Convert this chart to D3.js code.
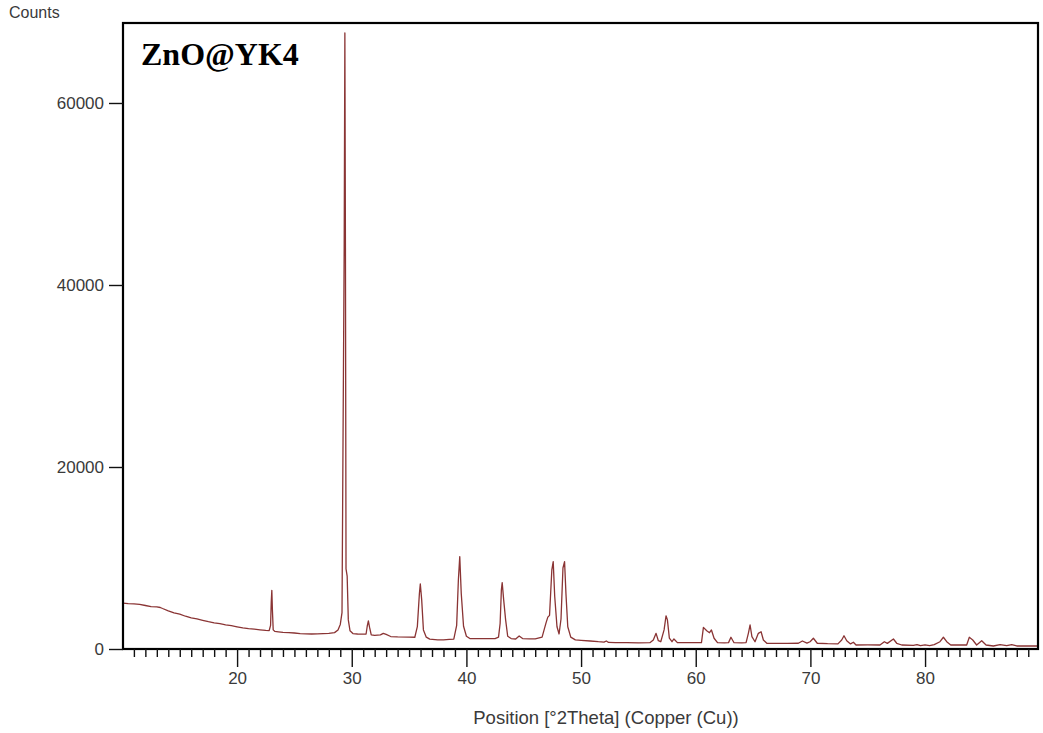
<!DOCTYPE html>
<html>
<head>
<meta charset="utf-8">
<script src="https://cdn.jsdelivr.net/npm/d3@7"></script>
<style>
  body { margin: 0; background: #fff; }
  svg { display: block; }
</style>
</head>
<body>
<svg id="drawing_region"></svg>
<script>
// 2theta positions (degrees)
const positions = [
  10.05, 10.5, 11.0, 11.5, 12.0, 12.5, 13.0, 13.3, 13.5, 14.0, 14.5, 15.0, 15.5, 16.0, 16.5,
  17.0, 17.5, 18.0, 18.5, 19.0, 19.5, 20.0, 20.5, 21.0, 21.5, 22.0, 22.5, 22.8,
  22.92, 22.98, 23.03, 23.08, 23.15, 23.3, 23.6, 24.0, 24.5, 25.0, 25.5, 26.0, 26.5,
  27.0, 27.5, 28.0, 28.5, 28.8, 29.0, 29.15, 29.28, 29.34, 29.40, 29.45, 29.5, 29.6,
  29.7, 29.85, 30.1, 30.5, 31.0, 31.25, 31.35, 31.45, 31.55, 31.7, 32.0, 32.5, 32.75,
  33.0, 33.4, 34.0, 35.0, 35.5, 35.72, 35.9, 35.98, 36.1, 36.25, 36.5, 36.8, 37.5,
  38.0, 38.5, 38.9, 39.15, 39.3, 39.42, 39.55, 39.75, 40.0, 40.3, 40.5, 41.5, 42.5,
  42.8, 42.94, 43.05, 43.12, 43.25, 43.42, 43.6, 43.9, 44.3, 44.6, 44.9, 45.5, 46.0,
  46.6, 46.95, 47.1, 47.25, 47.45, 47.57, 47.7, 47.9, 48.08, 48.25, 48.42, 48.56,
  48.68, 48.84, 49.1, 49.5, 50.0, 50.8, 51.5, 52.0, 52.2, 52.4, 53.0, 54.0, 55.0,
  56.0, 56.3, 56.54, 56.74, 56.95, 57.24, 57.41, 57.53, 57.7, 57.93, 58.1, 58.4,
  59.0, 60.0, 60.5, 60.67, 60.96, 61.2, 61.37, 61.6, 61.9, 62.5, 62.86, 63.07, 63.34,
  64.0, 64.39, 64.59, 64.74, 64.9, 65.17, 65.46, 65.7, 65.9, 66.2, 67.0, 68.0, 68.95,
  69.3, 69.7, 69.97, 70.26, 70.6, 71.5, 72.4, 72.73, 72.93, 73.17, 73.5, 73.75, 73.98,
  75.0, 76.07, 76.45, 76.71, 77.24, 77.53, 77.97, 78.98, 79.3, 79.6, 80.0, 80.4, 80.8,
  81.3, 81.6, 81.89, 82.24, 83.0, 83.63, 83.86, 84.16, 84.5, 84.94, 85.32, 85.96,
  86.54, 87.12, 87.56, 88.0, 89.0, 89.85
];

// intensity (counts) at each position
const counts = [
  5050, 4980, 4950, 4900, 4780, 4650, 4620, 4560, 4450, 4200, 3980, 3820, 3600, 3420, 3300,
  3150, 3000, 2870, 2780, 2660, 2560, 2440, 2320, 2230, 2180, 2110, 2050, 2030,
  2600, 5200, 6450, 4300, 2100, 1930, 1880, 1820, 1790, 1760, 1700, 1660, 1650,
  1660, 1690, 1720, 1800, 2100, 2700, 4000, 31500, 44000, 67700, 44000, 8800, 8000,
  3200, 2000, 1700, 1650, 1640, 1650, 2500, 3080, 2400, 1560, 1500, 1550, 1720,
  1600, 1370, 1330, 1300, 1290, 2450, 6100, 7150, 5400, 2100, 1300, 1080, 1000,
  1000, 1050, 1080, 2600, 7600, 10150, 6100, 2500, 1400, 1150, 1130, 1130, 1140,
  1300, 2800, 6500, 7300, 5400, 3200, 1400, 1150, 1100, 1430, 1150, 1120, 1120,
  1300, 2900, 3500, 3700, 8700, 9600, 5800, 2450, 1650, 3300, 8900, 9600,
  6100, 2450, 1300, 1000, 950, 880, 800, 760, 880, 720, 700, 690, 680,
  690, 990, 1720, 910, 800, 2100, 3650, 3200, 1200, 800, 1100, 700,
  690, 690, 700, 2380, 2010, 1790, 2090, 1180, 690, 680, 700, 1290, 690,
  680, 700, 1720, 2640, 1350, 800, 1720, 1900, 990, 630, 620, 620, 630,
  880, 640, 800, 1180, 630, 580, 560, 990, 1460, 910, 560, 740, 440,
  450, 440, 800, 620, 1100, 630, 440, 400, 480, 380, 450, 380, 480,
  800, 1290, 800, 440, 440, 440, 1290, 990, 440, 910, 440, 330,
  480, 370, 480, 330, 330, 330
];

const xMajorTicks = [20, 30, 40, 50, 60, 70, 80];
const yTicks = [0, 20000, 40000, 60000];

const data = positions.map((p, i) => ({ pos: p, count: counts[i] }));

class XrdChart {

    constructor( config, data ) {
        this.config = {
            parent: config.parent,
            width: config.width || 1043,
            height: config.height || 733,
            margin: config.margin || {top:10, right:10, bottom:10, left:10},
            xdomain: config.xdomain,
            ymax: config.ymax,
            xlabel: config.xlabel || '',
            ylabel: config.ylabel || '',
            title: config.title || '',
        }
        this.data = data;
        this.init();
    }

    init() {
        let self = this;

        self.svg = d3.select( self.config.parent )
            .attr('width', self.config.width)
            .attr('height', self.config.height);

        self.chart = self.svg.append('g')
            .attr('transform', `translate(${self.config.margin.left}, ${self.config.margin.top})`);

        self.inner_width = self.config.width - self.config.margin.left - self.config.margin.right;
        self.inner_height = self.config.height - self.config.margin.top - self.config.margin.bottom;

        self.xscale = d3.scaleLinear()
            .domain(self.config.xdomain)
            .range([0, self.inner_width]);

        self.yscale = d3.scaleLinear()
            .domain([0, self.config.ymax])
            .range([self.inner_height, 0]);

        // minor ticks every degree, major every ten
        let minor = d3.range(11, 90).filter(v => v % 10 != 0);
        self.xminor = d3.axisBottom(self.xscale)
            .tickValues(minor)
            .tickSize(8)
            .tickFormat('');

        self.xaxis = d3.axisBottom(self.xscale)
            .tickValues(xMajorTicks)
            .tickSize(18)
            .tickPadding(5)
            .tickFormat(d3.format('d'));

        self.yaxis = d3.axisLeft(self.yscale)
            .tickValues(yTicks)
            .tickSize(14)
            .tickPadding(5)
            .tickFormat(d3.format('d'));
    }

    update() {
        let self = this;
        self.render();
    }

    render() {
        let self = this;

        let line = d3.line()
            .x(d => self.xscale(d.pos))
            .y(d => self.yscale(d.count));

        self.chart.append('path')
            .datum(self.data)
            .attr('fill', 'none')
            .attr('stroke', '#8a3434')
            .attr('stroke-width', 1.3)
            .attr('stroke-linejoin', 'round')
            .attr('d', line);

        // frame
        self.chart.append('rect')
            .attr('x', 0)
            .attr('y', 0)
            .attr('width', self.inner_width)
            .attr('height', self.inner_height)
            .attr('fill', 'none')
            .attr('stroke', '#000')
            .attr('stroke-width', 2.2);

        let styleAxis = g => {
            g.select('.domain').remove();
            g.selectAll('.tick line').attr('stroke', '#111').attr('stroke-width', 1.4);
            g.selectAll('.tick text')
                .attr('fill', '#3a3a3a')
                .attr('font-family', '"Liberation Sans", Arial, sans-serif')
                .attr('font-size', '17px');
        };

        self.chart.append('g')
            .attr('transform', `translate(0, ${self.inner_height})`)
            .call(self.xminor)
            .call(styleAxis);

        self.chart.append('g')
            .attr('transform', `translate(0, ${self.inner_height})`)
            .call(self.xaxis)
            .call(styleAxis);

        self.chart.append('g')
            .call(self.yaxis)
            .call(styleAxis);

        self.svg.append('text')
            .attr('x', 606)
            .attr('y', 724)
            .attr('text-anchor', 'middle')
            .attr('fill', '#3a3a3a')
            .attr('font-family', '"Liberation Sans", Arial, sans-serif')
            .attr('font-size', '18.5px')
            .text(self.config.xlabel);

        self.svg.append('text')
            .attr('x', 9)
            .attr('y', 18)
            .attr('fill', '#3a3a3a')
            .attr('font-family', '"Liberation Sans", Arial, sans-serif')
            .attr('font-size', '16px')
            .text(self.config.ylabel);

        self.chart.append('text')
            .attr('x', 18)
            .attr('y', 42)
            .attr('fill', '#000')
            .attr('font-family', '"Liberation Serif", "Times New Roman", serif')
            .attr('font-weight', 'bold')
            .attr('font-size', '32px')
            .text(self.config.title);
    }
}

let config = {
    parent: '#drawing_region',
    width: 1043,
    height: 733,
    margin: {top:23, right:5, bottom:84, left:123},
    xdomain: [10.05, 89.85],
    ymax: 68790,
    xlabel: 'Position [°2Theta] (Copper (Cu))',
    ylabel: 'Counts',
    title: 'ZnO@YK4',
};

let xrd_chart = new XrdChart( config, data );
xrd_chart.update();
</script>
</body>
</html>
